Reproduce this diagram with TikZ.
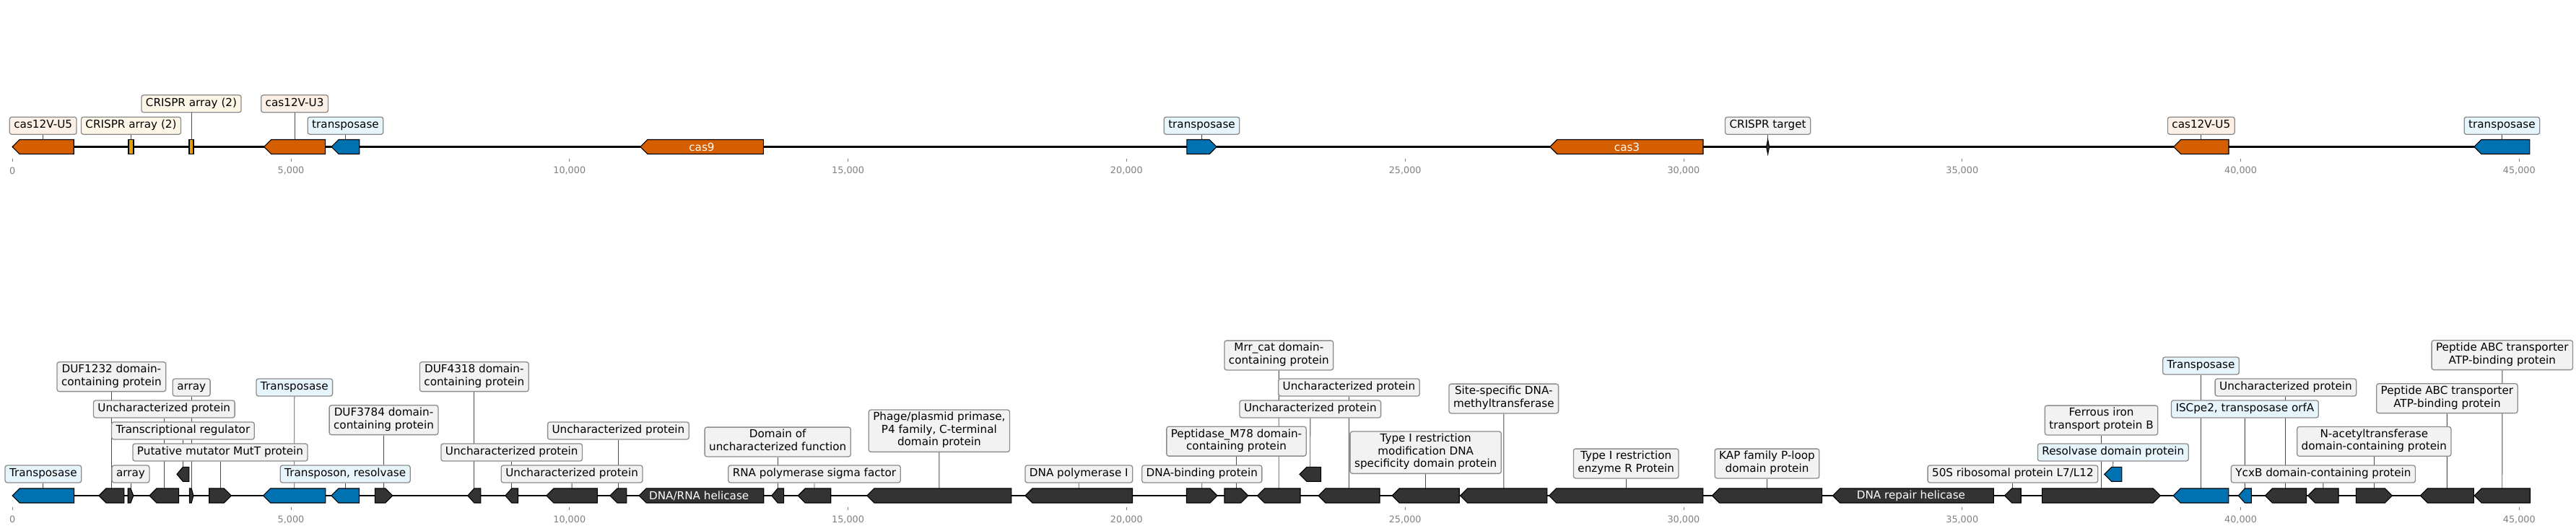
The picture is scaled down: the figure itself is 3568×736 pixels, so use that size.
\documentclass[tikz,border=0pt]{standalone}
\usepackage{fontspec}
\setmainfont{DejaVu Sans}
\definecolor{casor}{HTML}{D55E00}
\definecolor{tblue}{HTML}{0072B2}
\definecolor{crisp}{HTML}{E69F00}
\definecolor{dgene}{HTML}{333333}
\definecolor{labgray}{HTML}{F2F2F2}
\definecolor{labor}{HTML}{FCEFE6}
\definecolor{labyel}{HTML}{FDF6E6}
\definecolor{labblue}{HTML}{E6F4FB}
\definecolor{boxedge}{HTML}{8C8C8C}
\definecolor{tickgray}{HTML}{808080}
\pgfdeclarelayer{bg}
\pgfsetlayers{bg,main}
\tikzset{
  feat/.style={draw=black,line width=1.1pt,line join=miter},
  lbl/.style={draw=boxedge,line width=1.3pt,rounded corners=3pt,fill=labgray,
    inner xsep=6pt,inner ysep=3.25pt,align=center,
    font=\fontsize{15.2}{17.5}\selectfont,
    execute at begin node=\strut,execute at end node=\strut},
  orl/.style={fill=labor},
  yel/.style={fill=labyel},
  bll/.style={fill=labblue},
  grl/.style={fill=labgray},
  leader/.style={draw=black!70,line width=0.9pt},
  intext/.style={text=white,font=\fontsize{15.2}{17.5}\selectfont,inner sep=0pt},
  ticklbl/.style={text=tickgray,font=\fontsize{12.8}{14}\selectfont,inner sep=0pt},
  trackline/.style={draw=black,line width=2.4pt}
}
% left-pointing gene: name, tip x, end x, fill, centre y
\newcommand{\fL}[5]{%
  \pgfmathsetmacro\hd{min(10,0.5*(#3-(#2)))}%
  \draw[feat,fill=#4] (#2,#5) -- ({#2+\hd},{#5-10}) -- (#3,{#5-10}) -- (#3,{#5+10}) -- ({#2+\hd},{#5+10}) -- cycle;
  \coordinate (#1) at ({(#2+#3)/2},{#5-10});}
% right-pointing gene: name, start x, tip x, fill, centre y
\newcommand{\fR}[5]{%
  \pgfmathsetmacro\hd{min(10,0.5*(#3-(#2)))}%
  \draw[feat,fill=#4] (#2,{#5-10}) -- ({#3-\hd},{#5-10}) -- (#3,#5) -- ({#3-\hd},{#5+10}) -- (#2,{#5+10}) -- cycle;
  \coordinate (#1) at ({(#2+#3)/2},{#5-10});}
% no-strand feature
\newcommand{\fN}[5]{%
  \draw[feat,fill=#4] (#2,{#5-10}) rectangle (#3,{#5+10});
  \coordinate (#1) at ({(#2+#3)/2},{#5-10});}
% label: name, feature coord, x, y, style, text
\newcommand{\lab}[6]{%
  \node[lbl,#5] (#1) at (#3,#4) {#6};
  \begin{pgfonlayer}{bg}\draw[leader] (#1) -- (#2);\end{pgfonlayer}}
\begin{document}
\begin{tikzpicture}[x=1pt,y=-1pt]
\useasboundingbox (0,0) rectangle (3568,736);
% ---------------- axes ----------------
\begin{pgfonlayer}{bg}
\draw[trackline] (17.2,203.5) -- (3503.8,203.5);
\draw[trackline] (17.2,687) -- (3504.5,687);
\end{pgfonlayer}
\foreach \t/\s in {0/0,5/{5,000},10/{10,000},15/{15,000},20/{20,000},25/{25,000},30/{30,000},35/{35,000},40/{40,000},45/{45,000}}{
  \pgfmathsetmacro\tx{17.2+77.158*\t}
  \draw[tickgray,line width=0.9pt] (\tx,219.5) -- (\tx,223.5);
  \node[ticklbl] at (\tx,236.7) {\s};
  \draw[tickgray,line width=0.9pt] (\tx,703) -- (\tx,707);
  \node[ticklbl] at (\tx,720.2) {\s};
}
% ---------------- top track ----------------
\fL{t1}{17.2}{102.2}{casor}{203.5}
\fN{t2}{178}{185}{crisp}{203.5}
\fN{t3}{262}{268}{crisp}{203.5}
\fL{t4}{365.6}{450.6}{casor}{203.5}
\fL{t5}{459.2}{497.7}{tblue}{203.5}
\fL{t6}{886.8}{1057.3}{casor}{203.5}
\node[intext] (t6text) at (972,203.5) {cas9};
\fR{t7}{1643.9}{1685.2}{tblue}{203.5}
\fL{t8}{2146.7}{2359}{casor}{203.5}
\node[intext] (t8text) at (2253.5,203.5) {cas3};
\draw[feat,fill=dgene] (2446.6,203.5) -- (2448.6,193.5) -- (2450.6,203.5) -- (2448.6,213.5) -- cycle;
\coordinate (t9) at (2448.6,193.5);
\fL{t10}{3010.6}{3087}{casor}{203.5}
\fL{t11}{3426.9}{3503.8}{tblue}{203.5}

\lab{lt1}{t1}{59.7}{174.2}{orl}{cas12V-U5}
\lab{lt2}{t2}{181.5}{174.2}{yel}{CRISPR array (2)}
\lab{lt3}{t3}{265}{143.8}{yel}{CRISPR array (2)}
\lab{lt4}{t4}{408.1}{143.8}{orl}{cas12V-U3}
\lab{lt5}{t5}{478.5}{174.2}{bll}{transposase}
\lab{lt7}{t7}{1664.5}{174.2}{bll}{transposase}
\lab{lt9}{t9}{2448.6}{174.2}{grl}{CRISPR target}
\lab{lt10}{t10}{3048.8}{174.2}{orl}{cas12V-U5}
\lab{lt11}{t11}{3465.4}{174.2}{bll}{transposase}
% ---------------- bottom track ----------------
\fL{b1}{17.2}{102.6}{tblue}{687}
\fL{b2}{137}{171.8}{dgene}{687}
\fR{b3}{177.2}{184.8}{dgene}{687}
\fL{b4}{207}{247.6}{dgene}{687}
\fL{b5}{245}{261.8}{dgene}{657.3}
\fR{b6}{262.5}{267.9}{dgene}{687}
\fR{b7}{289.7}{320.3}{dgene}{687}
\fL{b8}{364.7}{450.8}{tblue}{687}
\fL{b9}{458.9}{497.5}{tblue}{687}
\fR{b10}{519.3}{543.8}{dgene}{687}
\fL{b11}{647.8}{665.8}{dgene}{687}
\fL{b12}{699.9}{717.5}{dgene}{687}
\fL{b13}{756.9}{827.3}{dgene}{687}
\fL{b14}{844.9}{867.9}{dgene}{687}
\fL{b15}{885.1}{1057.7}{dgene}{687}
\node[intext] (b15text) at (968.2,687) {DNA/RNA helicase};
\fL{b16}{1068.8}{1085.6}{dgene}{687}
\fL{b17}{1105.2}{1150.7}{dgene}{687}
\fL{b18}{1200.8}{1400.9}{dgene}{687}
\fL{b19}{1420}{1568.5}{dgene}{687}
\fR{b20}{1643.5}{1686}{dgene}{687}
\fR{b21}{1696}{1728.9}{dgene}{687}
\fL{b22}{1741.5}{1801}{dgene}{687}
\fL{b23}{1800}{1829.5}{dgene}{657.3}
\fL{b24}{1826}{1911}{dgene}{687}
\fL{b25}{1928.2}{2021.2}{dgene}{687}
\fL{b26}{2022.7}{2142.9}{dgene}{687}
\fL{b27}{2145.6}{2358.8}{dgene}{687}
\fL{b28}{2371.4}{2523.6}{dgene}{687}
\fL{b29}{2538.5}{2761.3}{dgene}{687}
\node[intext] (b29text) at (2646.9,687) {DNA repair helicase};
\fL{b30}{2776.6}{2799.2}{dgene}{687}
\fR{b31}{2828.6}{2992.4}{dgene}{687}
\fL{b32}{2914.7}{2938.8}{tblue}{657.3}
\fL{b33}{3010.1}{3086.9}{tblue}{687}
\fL{b34}{3100.3}{3118.4}{tblue}{687}
\fL{b35}{3137.3}{3194.5}{dgene}{687}
\fL{b36}{3196.7}{3239}{dgene}{687}
\fR{b37}{3263.3}{3313.3}{dgene}{687}
\fL{b38}{3352.4}{3426.3}{dgene}{687}
\fL{b39}{3427}{3504.5}{dgene}{687}

\lab{lb1}{b1}{59.9}{657}{bll}{Transposase}
\lab{lb2}{b2}{154.4}{522.2}{grl}{DUF1232 domain-\\containing protein}
\lab{lb3}{b3}{181}{657}{grl}{array}
\lab{lb4}{b4}{227.3}{567}{grl}{Uncharacterized protein}
\lab{lb5}{b5}{253.4}{597}{grl}{Transcriptional regulator}
\lab{lb6}{b6}{265.2}{537}{grl}{array}
\lab{lb7}{b7}{305}{627}{grl}{Putative mutator MutT protein}
\lab{lb8}{b8}{407.8}{537}{bll}{Transposase}
\lab{lb9}{b9}{478.2}{657}{bll}{Transposon, resolvase}
\lab{lb10}{b10}{531.5}{582.2}{grl}{DUF3784 domain-\\containing protein}
\lab{lb11}{b11}{656.8}{522.2}{grl}{DUF4318 domain-\\containing protein}
\lab{lb12}{b12}{708.7}{627}{grl}{Uncharacterized protein}
\lab{lb13}{b13}{792.1}{657}{grl}{Uncharacterized protein}
\lab{lb14}{b14}{856.4}{597}{grl}{Uncharacterized protein}
\lab{lb16}{b16}{1077.2}{612.5}{grl}{Domain of\\uncharacterized function}
\lab{lb17}{b17}{1128}{657}{grl}{RNA polymerase sigma factor}
\lab{lb18}{b18}{1300.9}{597.2}{grl}{Phage/plasmid primase,\\P4 family, C-terminal\\domain protein}
\lab{lb19}{b19}{1494.3}{657}{grl}{DNA polymerase I}
\lab{lb20}{b20}{1664.8}{657}{grl}{DNA-binding protein}
\lab{lb21}{b21}{1712.5}{611.7}{grl}{Peptidase\_M78 domain-\\containing protein}
\lab{lb22}{b22}{1771.3}{492.5}{grl}{Mrr\_cat domain-\\containing protein}
\lab{lb23}{b23}{1814.8}{567}{grl}{Uncharacterized protein}
\lab{lb24}{b24}{1868.5}{537}{grl}{Uncharacterized protein}
\lab{lb25}{b25}{1974.7}{627.2}{grl}{Type I restriction\\modification DNA\\specificity domain protein}
\lab{lb26}{b26}{2082.8}{552.5}{grl}{Site-specific DNA-\\methyltransferase}
\lab{lb27}{b27}{2252.2}{642.5}{grl}{Type I restriction\\enzyme R Protein}
\lab{lb28}{b28}{2447.5}{642.5}{grl}{KAP family P-loop\\domain protein}
\lab{lb30}{b30}{2787.9}{657}{grl}{50S ribosomal protein L7/L12}
\lab{lb31}{b31}{2910.5}{582.5}{grl}{Ferrous iron\\transport protein B}
\lab{lb32}{b32}{2926.8}{627}{bll}{Resolvase domain protein}
\lab{lb33}{b33}{3048.5}{507}{bll}{Transposase}
\lab{lb34}{b34}{3109.4}{567}{bll}{ISCpe2, transposase orfA}
\lab{lb35}{b35}{3165.9}{537}{grl}{Uncharacterized protein}
\lab{lb36}{b36}{3217.9}{657}{grl}{YcxB domain-containing protein}
\lab{lb37}{b37}{3288.3}{611.9}{grl}{N-acetyltransferase\\domain-containing protein}
\lab{lb38}{b38}{3389.4}{552.2}{grl}{Peptide ABC transporter\\ATP-binding protein}
\lab{lb39}{b39}{3465.8}{492.2}{grl}{Peptide ABC transporter\\ATP-binding protein}
\end{tikzpicture}
\end{document}
